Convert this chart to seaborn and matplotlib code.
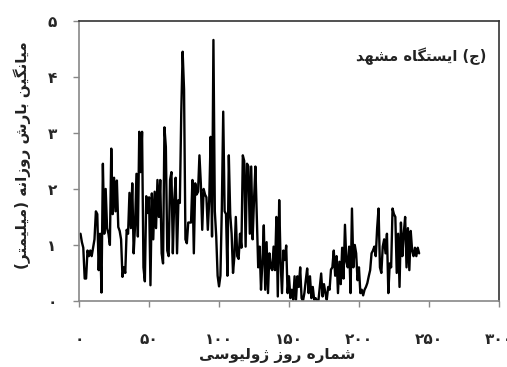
import numpy as np
import pandas as pd
import matplotlib
matplotlib.use("Agg")
import matplotlib.pyplot as plt
import seaborn as sns

# ---------------- data ----------------
rain = [
    1.2, 1.05, 0.95, 0.4, 0.4, 0.9, 0.8, 0.9, 0.8, 0.95,
    1.1, 1.6, 1.55, 0.55, 1.2, 0.15, 2.45, 1.2, 2.0, 1.3,
    1.2, 1.0, 2.72, 1.55, 2.2, 1.6, 2.15, 1.32, 1.25, 1.1,
    0.43, 0.6, 0.5, 1.27, 1.2, 1.93, 1.3, 2.1, 0.85, 1.35,
    2.27, 1.15, 3.02, 2.3, 3.02, 0.6, 0.35, 1.87, 1.57, 1.85,
    0.28, 1.92, 1.1, 1.95, 1.3, 2.16, 1.5, 2.16, 0.85, 0.67,
    3.1, 2.75, 0.9, 0.8, 2.16, 2.3, 0.85, 1.8, 2.2, 0.85,
    1.8, 1.75, 3.35, 4.45, 3.78, 1.1, 1.03, 1.4, 1.4, 1.4,
    2.16, 0.85, 2.1, 1.9, 1.95, 2.6, 2.1, 1.27, 2.0, 1.9,
    1.85, 1.27, 1.8, 2.93, 1.15, 4.66, 1.6, 1.15, 0.45, 0.26,
    0.45, 1.65, 3.38, 1.6, 1.55, 0.45, 2.6, 1.55, 1.2, 0.5,
    0.8, 1.5, 0.8, 0.75, 1.2, 0.95, 2.6, 2.5, 0.97, 2.45,
    2.4, 1.2, 2.4, 1.1, 1.8, 2.4, 1.5, 0.6, 0.97, 0.2,
    0.7, 1.35, 0.2, 1.05, 0.14, 0.85, 0.6, 0.55, 0.97, 0.55,
    1.5, 0.08, 1.8, 0.7, 0.14, 0.9, 0.73, 0.99, 0.14, 0.44,
    0.05, 0.2, 0.02, 0.44, 0.02, 0.44, 0.25, 0.6, 0.05, 0.0,
    0.14, 0.37, 0.58, 0.14, 0.44, 0.05, 0.25, 0.02, 0.05, 0.0,
    0.0, 0.25, 0.49, 0.08, 0.3, 0.14, 0.02, 0.25, 0.2, 0.56,
    0.6, 0.9, 0.45, 0.8, 0.14, 0.7, 0.3, 0.95, 0.4, 1.36,
    0.7, 0.6, 0.97, 0.14, 1.65, 0.6, 1.0, 0.85, 0.37, 0.6,
    0.14, 0.2, 0.1, 0.2, 0.25, 0.32, 0.44, 0.55, 0.85, 0.9,
    0.97, 0.8, 1.3, 1.65, 0.6, 0.5, 0.97, 1.1, 0.85, 1.2,
    0.14, 0.67, 0.6, 1.65, 1.55, 1.5, 0.5, 1.2, 0.25, 1.4,
    0.8, 1.2, 1.5, 0.6, 1.3, 0.55, 1.25, 0.9, 0.8, 0.95,
    0.8, 0.95, 0.85,
]
days = list(range(1, len(rain) + 1))

x_ticks = [0, 50, 100, 150, 200, 250, 300]
y_ticks = [0, 1, 2, 3, 4, 5]
x_label = "شماره روز ژولیوسی"
y_label = "میانگین بارش روزانه (میلیمتر)"
panel_title = "(ج) ایستگاه مشهد"

# ---------------- simple Persian shaping ----------------
FORMS = {  # isolated, final, initial, medial
    "\u0627": ("\uFE8D", "\uFE8E", None, None),
    "\u0628": ("\uFE8F", "\uFE90", "\uFE91", "\uFE92"),
    "\u062A": ("\uFE95", "\uFE96", "\uFE97", "\uFE98"),
    "\u062C": ("\uFE9D", "\uFE9E", "\uFE9F", "\uFEA0"),
    "\u062F": ("\uFEA9", "\uFEAA", None, None),
    "\u0631": ("\uFEAD", "\uFEAE", None, None),
    "\u0632": ("\uFEAF", "\uFEB0", None, None),
    "\u0698": ("\uFB8A", "\uFB8B", None, None),
    "\u0633": ("\uFEB1", "\uFEB2", "\uFEB3", "\uFEB4"),
    "\u0634": ("\uFEB5", "\uFEB6", "\uFEB7", "\uFEB8"),
    "\u0644": ("\uFEDD", "\uFEDE", "\uFEDF", "\uFEE0"),
    "\u0645": ("\uFEE1", "\uFEE2", "\uFEE3", "\uFEE4"),
    "\u0646": ("\uFEE5", "\uFEE6", "\uFEE7", "\uFEE8"),
    "\u0647": ("\uFEE9", "\uFEEA", "\uFEEB", "\uFEEC"),
    "\u0648": ("\uFEED", "\uFEEE", None, None),
    "\u06CC": ("\uFBFC", "\uFBFD", "\uFBFE", "\uFBFF"),
    "\u06A9": ("\uFB8E", "\uFB8F", "\uFB90", "\uFB91"),
    "\u06AF": ("\uFB92", "\uFB93", "\uFB94", "\uFB95"),
}


def shape(text):
    out = []
    n = len(text)
    for i, ch in enumerate(text):
        if ch not in FORMS:
            out.append(ch)
            continue
        iso, fin, ini, med = FORMS[ch]
        prev = text[i - 1] if i > 0 else None
        nxt = text[i + 1] if i < n - 1 else None
        join_prev = prev in FORMS and FORMS[prev][2] is not None
        join_next = nxt in FORMS and ini is not None
        if join_prev and join_next:
            out.append(med)
        elif join_prev:
            out.append(fin)
        elif join_next:
            out.append(ini)
        else:
            out.append(iso)
    vis = "".join(out)[::-1]
    vis = vis.translate(str.maketrans("()", ")("))
    return vis


def fa_digits(v):
    return str(v).translate(str.maketrans("0123456789", "۰۱۲۳۴۵۶۷۸۹"))


# ---------------- plot ----------------
sns.set_theme(style="white")
plt.rcParams["font.family"] = ["DejaVu Sans"]

fig = plt.figure(figsize=(5.07, 3.67), dpi=100)
ax = fig.add_axes([0.156, 0.180, 0.828, 0.763])

df = pd.DataFrame({"day": days, "rain": rain})
sns.lineplot(data=df, x="day", y="rain", ax=ax, color="black", lw=1.7)

ax.set_xlim(0, 300)
ax.set_ylim(0, 5)
ax.set_xticks(x_ticks)
ax.set_yticks(y_ticks)
ax.set_xticklabels([fa_digits(v) for v in x_ticks], fontsize=11, fontweight="bold")
ax.set_yticklabels([fa_digits(v) for v in y_ticks], fontsize=11, fontweight="bold", ha="center")
ax.tick_params(axis="x", direction="out", length=4.5, width=1, color="#888888", pad=18, bottom=True)
ax.tick_params(axis="y", direction="out", length=4.5, width=1, color="#888888", pad=15, left=True)

for s in ["left", "bottom"]:
    ax.spines[s].set_color("#888888")
    ax.spines[s].set_linewidth(1.2)
for s in ["top", "right"]:
    ax.spines[s].set_color("#333333")
    ax.spines[s].set_linewidth(1.2)

ax.set_xlabel("")
ax.set_ylabel("")
fig.text(0.547, 0.030, shape(x_label), ha="center", va="center", fontsize=11, fontweight="bold", color="#222222")
fig.text(0.043, 0.578, shape(y_label), ha="center", va="center", rotation=90, fontsize=11, fontweight="bold", color="#222222")
ax.text(0.97, 0.875, shape(panel_title), transform=ax.transAxes, ha="right", va="center", fontsize=10.5, fontweight="bold", color="#222222")

fig.savefig("out.png", dpi=100)
